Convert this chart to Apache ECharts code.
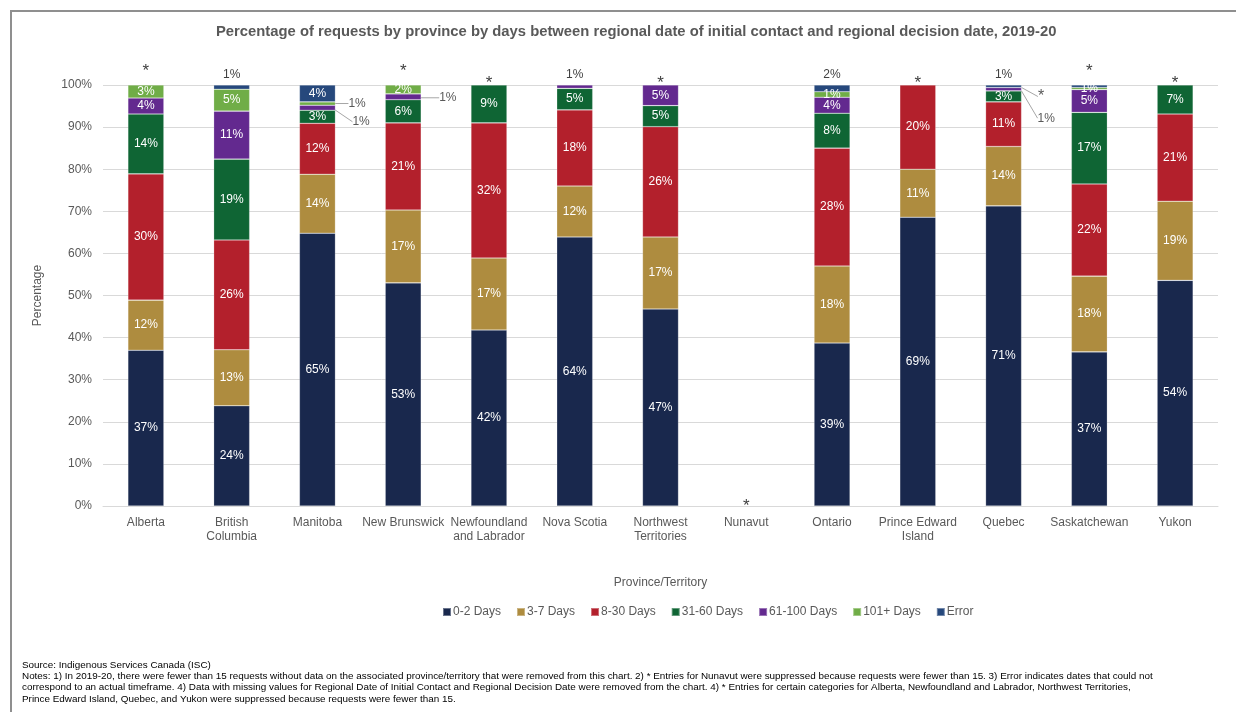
<!DOCTYPE html>
<html>
<head>
<meta charset="utf-8">
<script src="https://cdn.jsdelivr.net/npm/echarts@6/dist/echarts.min.js"></script>
<style>
html,body{margin:0;padding:0;background:#fff;}
#chart{width:1236px;height:712px;}
</style>
</head>
<body>
<div id="chart"></div>
<script>
// ---------- DATA ----------
const categories = ['Alberta','British\nColumbia','Manitoba','New Brunswick','Newfoundland\nand Labrador','Nova Scotia','Northwest\nTerritories','Nunavut','Ontario','Prince Edward\nIsland','Quebec','Saskatchewan','Yukon'];
const seriesNames = ['0-2 Days','3-7 Days','8-30 Days','31-60 Days','61-100 Days','101+ Days','Error'];
const days0to2   = [37.0, 23.8, 64.8, 53.0, 41.8, 63.9, 46.8, null, 38.7, 68.6, 71.3, 36.6, 53.6];
const days3to7   = [11.9, 13.3, 14.0, 17.3, 17.1, 12.1, 17.1, null, 18.3, 11.4, 14.1, 18.0, 18.8];
const days8to30  = [30.0, 26.1, 12.1, 20.7, 32.1, 18.1, 26.2, null, 28.0, 20.0, 10.6, 21.9, 20.7];
const days31to60 = [14.2, 19.2,  3.1,  5.5,  9.0,  5.1,  5.0, null,  8.3, null,  2.6, 17.0,  6.9];
const days61to100= [ 3.8, 11.4,  1.2,  1.4, null,  0.8,  4.9, null,  3.8, null,  0.8,  5.4, null];
const days101plus= [ 3.1,  5.2,  0.8,  2.1, null, null, null, null,  1.3, null,  0,    0.5, null];
const errorDays  = [null,  1.0,  4.0, null, null, null, null, null,  1.6, null,  0.6,  0.6, null];
const seriesValues = [days0to2, days3to7, days8to30, days31to60, days61to100, days101plus, errorDays];
const yTicks = [0,10,20,30,40,50,60,70,80,90,100];
// text written above each bar
const notesAbove = ['*','1%','','*','*','1%','*','*','2%','*','1%','*','*'];
// items whose value is printed above the bar instead of inside
const labelledAbove = [['British\nColumbia','Error'],['Nova Scotia','61-100 Days'],['Ontario','Error'],['Quebec','Error'],['Saskatchewan','Error']];
// items with a side callout label
const callouts = [['Manitoba','101+ Days','1%'],['Manitoba','61-100 Days','1%'],['New Brunswick','61-100 Days','1%'],['Quebec','101+ Days','*'],['Quebec','61-100 Days','1%']];
const titleText = 'Percentage of requests by province by days between regional date of initial contact and regional decision date, 2019-20';
const sourceLines = [
 'Source: Indigenous Services Canada (ISC)',
 'Notes: 1) In 2019-20, there were fewer than 15 requests without data on the associated province/territory that were removed from this chart. 2) * Entries for Nunavut were suppressed because requests were fewer than 15. 3) Error indicates dates that could not',
 'correspond to an actual timeframe. 4) Data with missing values for Regional Date of Initial Contact and Regional Decision Date were removed from the chart. 4) * Entries for certain categories for Alberta, Newfoundland and Labrador, Northwest Territories,',
 'Prince Edward Island, Quebec, and Yukon were suppressed because requests were fewer than 15.'
];

// ---------- STYLE / LAYOUT ----------
const colors = ['#19284d','#ae8c3f','#b3202c','#0f6534','#63298f','#70ad47','#26487c'];
const FONT = '"Liberation Sans", Arial, sans-serif';
const TXT = '#595959';
const calloutOffsets = [[13,0],[17,14],[18,1],[16,9],[16,29]];
const noteOffsets = ['*hi','%','','*hi','*lo','%','*lo','*base','%','*lo','%','*hi','*lo'];

function isIn(list, cat, s){ return list.findIndex(p => p[0]===cat && p[1]===s); }

const series = seriesNames.map((name, si) => ({
  name, type:'bar', stack:'total', barWidth:36,
  itemStyle:{color:colors[si], borderColor:'rgba(255,255,255,0.35)', borderWidth:0.6},
  emphasis:{disabled:true},
  labelLine:{show:false},
  data: seriesValues[si].map((v, ci) => {
    const cat = categories[ci];
    const c = isIn(callouts, cat, name);
    if (c >= 0) {
      return {value:v, label:{show:true, position:'right', color:TXT, fontSize:callouts[c][2]==='*'?16:12, formatter:callouts[c][2]},
              labelLine:{show:true, lineStyle:{color:'#a6a6a6', width:1}}};
    }
    const hidden = v == null || v === 0 || isIn(labelledAbove, cat, name) >= 0;
    return {value:v, label:{show:!hidden}};
  }),
  label:{show:true, position:'inside', color:'#fff', fontFamily:FONT, fontSize:12,
         formatter: p => Math.round(p.value) + '%'},
  labelLayout: function(params){
    const cat = categories[params.dataIndex];
    const c = isIn(callouts, cat, name);
    if (c < 0) return {};
    const r = params.rect;
    return {x: r.x + r.width + calloutOffsets[c][0], y: r.y + r.height/2 + calloutOffsets[c][1], align:'left', verticalAlign:'middle'};
  }
}));

// annotation series: zero-height bar on top of each stack carrying the note text
series.push({
  name:'notes', type:'bar', stack:'total', barWidth:36, silent:true,
  itemStyle:{color:'transparent'},
  data: categories.map((c, i) => {
    const mode = noteOffsets[i];
    let off = [0,0], size = 12;
    if (mode === '*hi') { off = [0, -1]; size = 17; }
    if (mode === '*lo') { off = [0, 11]; size = 17; }
    if (mode === '*base') { off = [0, 13]; size = 17; }
    return {value:0, label:{offset:off, fontSize:size}};
  }),
  label:{show:true, position:'top', distance:4, color:'#404040', fontFamily:FONT,
         formatter: p => notesAbove[p.dataIndex]}
});

const chart = echarts.init(document.getElementById('chart'));
chart.setOption({
  animation:false,
  backgroundColor:'#fff',
  textStyle:{fontFamily:FONT},
  title:{text:titleText, left:211, top:19, textStyle:{fontFamily:FONT, fontSize:14.8, fontWeight:'bold', color:TXT}},
  grid:{left:103, right:18, top:85, bottom:206, containLabel:false},
  legend:{data:seriesNames, left:437, top:601, icon:'rect', itemWidth:8, itemHeight:8, itemGap:15,
          textStyle:{color:TXT, fontSize:12, fontFamily:FONT, padding:[0,0,0,-3]}},
  xAxis:{type:'category', data:categories, name:'Province/Territory', nameLocation:'middle', nameGap:71,
         nameTextStyle:{color:TXT, fontSize:12, fontFamily:FONT},
         axisLine:{lineStyle:{color:'#d9d9d9'}}, axisTick:{show:false},
         axisLabel:{color:TXT, fontSize:12, fontFamily:FONT, margin:10, interval:0, lineHeight:14}},
  yAxis:{type:'value', min:yTicks[0], max:yTicks[yTicks.length-1], interval:yTicks[1]-yTicks[0],
         name:'Percentage', nameLocation:'middle', nameGap:59,
         nameTextStyle:{color:TXT, fontSize:12, fontFamily:FONT},
         axisLabel:{color:TXT, fontSize:12, fontFamily:FONT, formatter:'{value}%', margin:11},
         splitLine:{lineStyle:{color:'#d9d9d9'}}, axisLine:{show:false}, axisTick:{show:false}},
  series,
  graphic:[
    {type:'rect', shape:{x:11, y:11, width:1400, height:900}, style:{fill:'none', stroke:'#8f8f8f', lineWidth:2}, silent:true},
    ...sourceLines.map((t, i) => ({type:'text', left:22, top:660 + i*11.3,
        style:{text:t, fill:'#000', font:'9.9px "Liberation Sans", Arial, sans-serif'}, silent:true}))
  ]
});
</script>
</body>
</html>
